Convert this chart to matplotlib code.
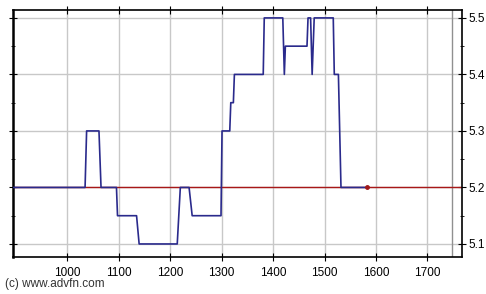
import matplotlib
matplotlib.use('Agg')
import matplotlib.pyplot as plt
from matplotlib.ticker import MultipleLocator

# price trace (x position, price)
trade_x = [895, 1035, 1038, 1062, 1066, 1096, 1098, 1135, 1140, 1214, 1220,
           1237, 1243, 1299, 1301, 1316, 1318, 1323, 1325, 1381, 1383, 1419,
           1422, 1424, 1466, 1468, 1473, 1476, 1480, 1517, 1519, 1527, 1532,
           1582]
trade_y = [5.2, 5.2, 5.3, 5.3, 5.2, 5.2, 5.15, 5.15, 5.1, 5.1, 5.2,
           5.2, 5.15, 5.15, 5.3, 5.3, 5.35, 5.35, 5.4, 5.4, 5.5, 5.5,
           5.4, 5.45, 5.45, 5.5, 5.5, 5.4, 5.5, 5.5, 5.4, 5.4, 5.2,
           5.2]
ref_price = 5.2
last_x = 1582
x_ticks = [1000, 1100, 1200, 1300, 1400, 1500, 1600, 1700]
y_ticks = [5.1, 5.2, 5.3, 5.4, 5.5]

plt.rcParams['font.family'] = ['Liberation Sans', 'DejaVu Sans']

fig = plt.figure(figsize=(4.86, 2.94), dpi=100)
ax = fig.add_axes([0.0267, 0.126, 0.9239, 0.840])

ax.set_xlim(895, 1767)
ax.set_ylim(5.077, 5.514)

ax.grid(True, color='#c8c8c8', linewidth=1.0)
ax.set_axisbelow(True)
ax.axvline(1747, color='#909090', linewidth=1.0, zorder=1)

ax.axhline(ref_price, color='#a81818', linewidth=1.0, zorder=2)
ax.plot(trade_x, trade_y, color='#2a2a8c', linewidth=1.2, zorder=3)
ax.plot([last_x], [ref_price], 'o', color='#a01818', markersize=2.5, zorder=4)

ax.set_xticks(x_ticks)
ax.set_yticks(y_ticks)
ax.yaxis.set_minor_locator(MultipleLocator(0.05))
ax.yaxis.tick_right()
ax.tick_params(axis='y', which='both', right=True, left=True, direction='inout',
               labelsize=8.5, length=6, pad=2)
ax.tick_params(axis='y', which='minor', length=3)
ax.tick_params(axis='x', top=True, direction='inout', labelsize=8.5,
               length=6, pad=4)
for s in ax.spines.values():
    s.set_linewidth(1.2)
ax.spines['left'].set_linewidth(1.8)

fig.text(0.01, 0.025, '(c) www.advfn.com', fontsize=8.5, color='#333333')

fig.savefig('out.png', dpi=100)
